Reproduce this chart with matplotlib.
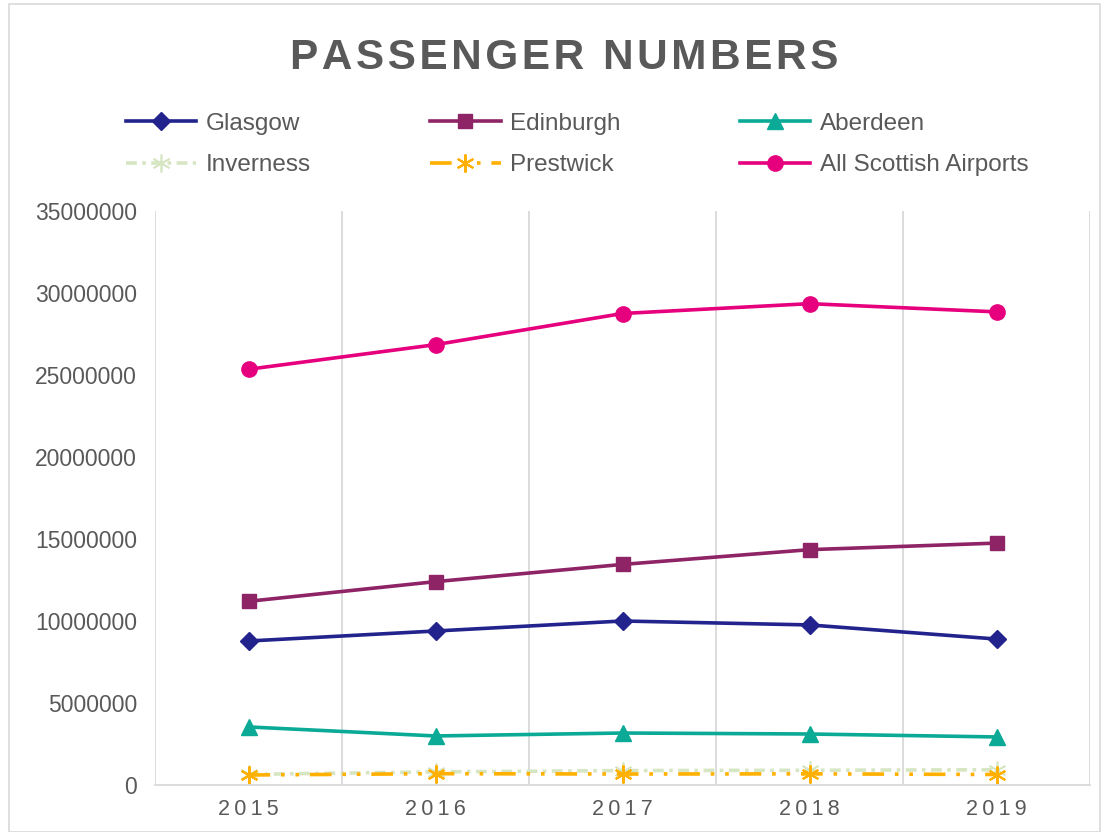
import matplotlib
matplotlib.use("Agg")
import matplotlib.pyplot as plt
from matplotlib.patches import Rectangle

plt.rcParams['font.family'] = ['Liberation Sans', 'DejaVu Sans']

years = ["2015", "2016", "2017", "2018", "2019"]
glasgow = [8780000, 9390000, 10000000, 9760000, 8900000]
edinburgh = [11200000, 12400000, 13450000, 14350000, 14750000]
aberdeen = [3540000, 2990000, 3170000, 3110000, 2930000]
inverness = [650000, 800000, 880000, 900000, 930000]
prestwick = [610000, 690000, 670000, 680000, 640000]
all_scottish = [25350000, 26850000, 28750000, 29350000, 28850000]

TXT = "#595959"
GRID = "#D9D9D9"

fig = plt.figure(figsize=(11.09, 8.32), dpi=100)
fig.patches.append(Rectangle((0.008, 0.0), 0.984, 0.995, transform=fig.transFigure,
                             fill=False, edgecolor=GRID, linewidth=1.2))
ax = fig.add_axes([155/1109, 1-785/832, (1090-155)/1109, (785-211)/832])

x = list(range(len(years)))
lw = 2.6
hg, = ax.plot(x, glasgow, color="#23238E", lw=lw, marker="D", ms=9, label="Glasgow")
he, = ax.plot(x, edinburgh, color="#8E2366", lw=lw, marker="s", ms=10, label="Edinburgh")
ha, = ax.plot(x, aberdeen, color="#0AAA96", lw=lw, marker="^", ms=12, label="Aberdeen")
hi, = ax.plot(x, inverness, color="#D6E6C3", lw=lw, dashes=(3, 1.5, 1, 1.5),
              marker=(6, 2, 0), ms=13, mew=1.2, label="Inverness")
hp, = ax.plot(x, prestwick, color="#FFB000", lw=lw, dashes=(6, 3, 1, 3, 1, 3),
              marker=(6, 2, 0), ms=13, mew=1.5, label="Prestwick")
hs, = ax.plot(x, all_scottish, color="#E6007E", lw=lw, marker="o", ms=11,
              label="All Scottish Airports")

ax.set_xlim(-0.5, len(years) - 0.5)
ax.set_ylim(0, 35000000)
ax.set_yticks(range(0, 35000001, 5000000))
ax.set_yticklabels([str(v) for v in range(0, 35000001, 5000000)])
ax.set_xticks(x)
ax.set_xticklabels(["\u2009".join(y) for y in years])
ax.set_xticks([i - 0.5 for i in range(len(years) + 1)], minor=True)
ax.grid(True, which="minor", axis="x", color=GRID, lw=1.3)
ax.grid(False, which="major")
for s in ["top", "right", "left"]:
    ax.spines[s].set_visible(False)
ax.spines["bottom"].set_color(GRID)
ax.spines["bottom"].set_linewidth(1.3)
ax.tick_params(axis="both", which="both", length=0, colors=TXT)
ax.tick_params(axis="y", pad=13, labelsize=16.5)
ax.tick_params(axis="x", pad=10, labelsize=15.5)

fig.text(0.509, 1-58/832, "\u200a".join("PASSENGER NUMBERS"), ha="center", va="center",
         fontsize=30.5, fontweight="bold", color=TXT)

handles = [hg, hi, he, hp, ha, hs]
fig.legend(handles, [h.get_label() for h in handles], loc="upper left",
           bbox_to_anchor=(116/1109, 1-103/832), ncol=3, frameon=False,
           fontsize=17.5, labelcolor=TXT, handlelength=2.9, columnspacing=4.9,
           handletextpad=0.4, labelspacing=0.8, borderaxespad=0)

fig.savefig("out.png", dpi=100)
